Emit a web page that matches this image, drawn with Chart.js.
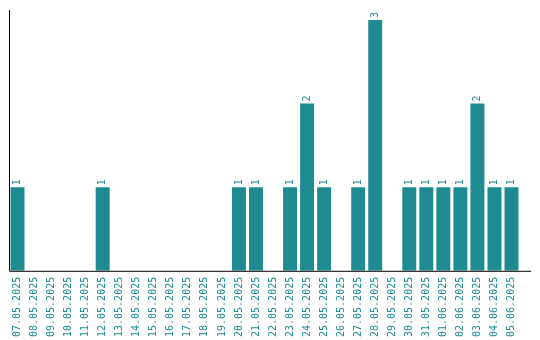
<!DOCTYPE html>
<html>
<head>
<meta charset="utf-8">
<script src="https://cdn.jsdelivr.net/npm/chart.js@4/dist/chart.umd.min.js"></script>
<style>
    html, body { margin: 0; padding: 0; background: #fff; }
    #wrap { width: 540px; height: 340px; }
</style>
</head>
<body>
<div id="wrap"><canvas id="chart"></canvas></div>
<script>
const dates = [
    '07.05.2025', '08.05.2025', '09.05.2025', '10.05.2025', '11.05.2025',
    '12.05.2025', '13.05.2025', '14.05.2025', '15.05.2025', '16.05.2025',
    '17.05.2025', '18.05.2025', '19.05.2025', '20.05.2025', '21.05.2025',
    '22.05.2025', '23.05.2025', '24.05.2025', '25.05.2025', '26.05.2025',
    '27.05.2025', '28.05.2025', '29.05.2025', '30.05.2025', '31.05.2025',
    '01.06.2025', '02.06.2025', '03.06.2025', '04.06.2025', '05.06.2025'
];
const counts = [
    1, 0, 0, 0, 0,
    1, 0, 0, 0, 0,
    0, 0, 0, 1, 1,
    0, 1, 2, 1, 0,
    1, 3, 0, 1, 1,
    1, 1, 2, 1, 1
];
const yMax = 3.12;

const teal = '#1e8b92';
const monoFont = '10px "DejaVu Sans Mono", monospace';

// value labels above each bar, rotated like the tick labels
const barLabels = {
    id: 'barLabels',
    afterDatasetsDraw(chart) {
        const ctx = chart.ctx;
        const meta = chart.getDatasetMeta(0);
        ctx.save();
        ctx.font = monoFont;
        ctx.fillStyle = teal;
        ctx.textAlign = 'left';
        ctx.textBaseline = 'middle';
        meta.data.forEach((bar, i) => {
            if (!counts[i]) return;
            ctx.save();
            ctx.translate(bar.x, bar.y - 2);
            ctx.rotate(-Math.PI / 2);
            ctx.fillText(String(counts[i]), 0, 0);
            ctx.restore();
        });
        ctx.restore();
    }
};

// axis lines: x line runs a bit past the last category
const axisLines = {
    id: 'axisLines',
    afterDraw(chart) {
        const { ctx, chartArea } = chart;
        ctx.save();
        ctx.strokeStyle = '#000';
        ctx.lineWidth = 1;
        ctx.beginPath();
        ctx.moveTo(chartArea.left + 0.5, chartArea.top);
        ctx.lineTo(chartArea.left + 0.5, chartArea.bottom + 0.5);
        ctx.lineTo(chartArea.right + 11, chartArea.bottom + 0.5);
        ctx.stroke();
        ctx.restore();
    }
};

new Chart(document.getElementById('chart'), {
    type: 'bar',
    data: {
        labels: dates,
        datasets: [{
            data: counts,
            backgroundColor: teal,
            borderWidth: 0,
            barPercentage: 1,
            categoryPercentage: 0.82
        }]
    },
    options: {
        responsive: true,
        maintainAspectRatio: false,
        animation: false,
        layout: { padding: { left: 9, top: 10, right: 20, bottom: -3 } },
        plugins: {
            legend: { display: false },
            tooltip: { enabled: false }
        },
        scales: {
            x: {
                grid: { display: false, drawTicks: false },
                border: { display: false },
                ticks: {
                    color: teal,
                    font: { family: '"DejaVu Sans Mono", monospace', size: 10 },
                    minRotation: 90,
                    maxRotation: 90,
                    autoSkip: false,
                    padding: 6
                }
            },
            y: {
                display: true,
                min: 0,
                max: yMax,
                grid: { display: false, drawTicks: false },
                border: { display: false },
                ticks: { display: false }
            }
        }
    },
    plugins: [barLabels, axisLines]
});
</script>
</body>
</html>
